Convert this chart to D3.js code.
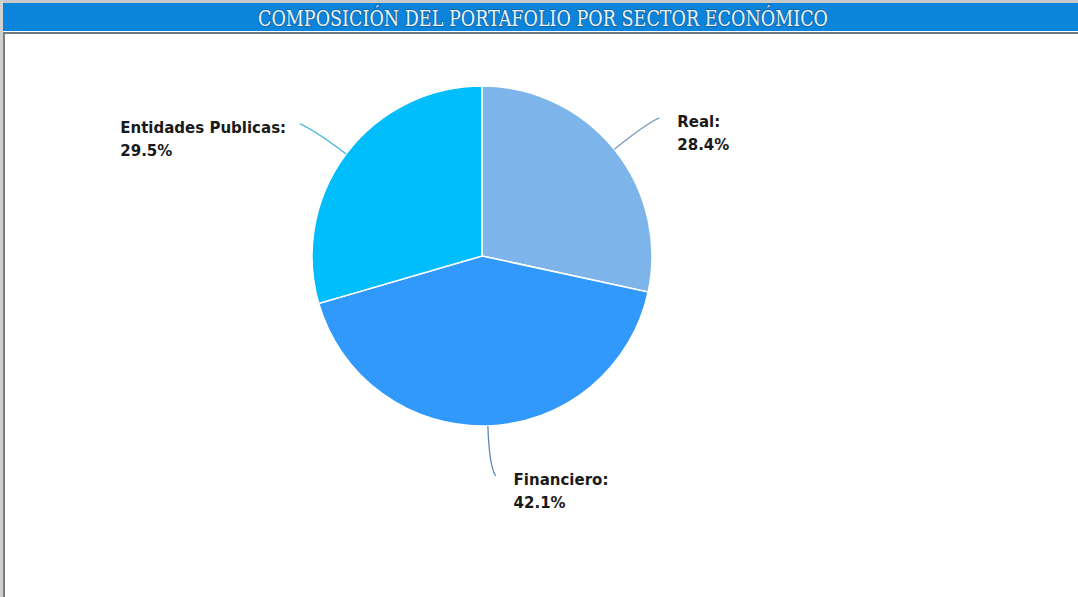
<!DOCTYPE html>
<html>
<head>
<meta charset="utf-8">
<script src="https://cdn.jsdelivr.net/npm/d3@7"></script>
<style>
  body { margin: 0; background: #fff; }
  .lbl { font-family: "DejaVu Sans", sans-serif; font-weight: bold; font-size: 15px; fill: #1a1a1a; }
</style>
</head>
<body>
<div id="chart"></div>
<script>
var svgWidth = 1078;
var svgHeight = 597;

// data
var sectors = ["Real", "Financiero", "Entidades Publicas"];
var shares = [28.4, 42.1, 29.5];
var colors = ["#7db5ea", "#3199fb", "#00bdfb"];
var lineColors = ["#7f9fc0", "#5f86b0", "#4fb8dc"];
var title = "COMPOSICIÓN DEL PORTAFOLIO POR SECTOR ECONÓMICO";

var center = { x: 482, y: 256 };
var radius = 170;

var svg = d3.select("#chart")
  .append("svg")
  .attr("width", svgWidth)
  .attr("height", svgHeight);

// frame
svg.append("rect")
  .attr("x", 0).attr("y", 0)
  .attr("width", svgWidth).attr("height", 4)
  .attr("fill", "#c9c9c9");
svg.append("rect")
  .attr("x", 0).attr("y", 0)
  .attr("width", 3).attr("height", svgHeight)
  .attr("fill", "#d0d0d0");
svg.append("rect")
  .attr("x", 3).attr("y", 3)
  .attr("width", svgWidth - 3).attr("height", 28)
  .attr("fill", "#0b84dc");
svg.append("rect")
  .attr("x", 3).attr("y", 32)
  .attr("width", svgWidth - 3).attr("height", 2)
  .attr("fill", "#6f7a80");
svg.append("rect")
  .attr("x", 3).attr("y", 32)
  .attr("width", 2).attr("height", svgHeight - 32)
  .attr("fill", "#7d7d7d");

// title
svg.append("text")
  .attr("x", 543).attr("y", 26)
  .attr("text-anchor", "middle")
  .attr("textLength", 570)
  .attr("lengthAdjust", "spacingAndGlyphs")
  .style("font-family", "'DejaVu Serif Condensed', 'DejaVu Serif', serif")
  .style("font-size", "22px")
  .style("fill", "#e6f6ff")
  .style("paint-order", "stroke")
  .style("stroke", "#17609a")
  .style("stroke-width", "1.6px")
  .text(title);

var data = sectors.map(function(s, i) {
  return { name: s, value: shares[i], color: colors[i], line: lineColors[i] };
});

var pie = d3.pie()
  .sort(null)
  .value(function(d) { return d.value; });

var arc = d3.arc()
  .innerRadius(0)
  .outerRadius(radius);

var chartGroup = svg.append("g")
  .attr("transform", `translate(${center.x}, ${center.y})`);

var arcs = pie(data);

chartGroup.selectAll("path.slice")
  .data(arcs)
  .enter()
  .append("path")
  .attr("class", "slice")
  .attr("d", arc)
  .attr("fill", d => d.data.color)
  .attr("stroke", "#ffffff")
  .attr("stroke-width", 1.5);

function polar(r, a) {
  return [r * Math.sin(a), -r * Math.cos(a)];
}

// connectors and labels
arcs.forEach(function(d) {
  var a = (d.startAngle + d.endAngle) / 2;
  var dir = Math.sin(a) >= 0 ? 1 : -1;
  var p0 = polar(radius, a);
  var pc = polar(radius + 40, a);
  var p1 = polar(radius + 50, a);
  p1[0] += dir * 6;

  chartGroup.append("path")
    .attr("d", `M${p0[0]},${p0[1]} Q${pc[0]},${pc[1]} ${p1[0]},${p1[1]}`)
    .attr("fill", "none")
    .attr("stroke", d.data.line)
    .attr("stroke-width", 1.3);

  var g = chartGroup.append("g");
  g.append("text").attr("class", "lbl")
    .attr("x", 0).attr("y", 0)
    .text(d.data.name + ":");
  g.append("text").attr("class", "lbl")
    .attr("x", 0).attr("y", 23)
    .text(d3.format(".1f")(d.data.value) + "%");
  var w = g.node().getBBox().width;
  var lx = dir > 0 ? p1[0] + 18 : p1[0] - 14 - w;
  g.attr("transform", `translate(${lx}, ${p1[1] + 9})`);
});
</script>
</body>
</html>
